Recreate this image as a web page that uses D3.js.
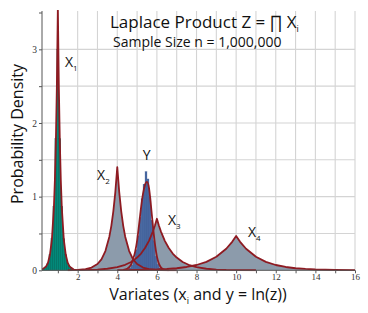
<!DOCTYPE html>
<html><head><meta charset="utf-8">
<script src="https://cdn.jsdelivr.net/npm/d3@7/dist/d3.min.js"></script>
<style>html,body{margin:0;padding:0;background:#fff;} svg{display:block;}</style>
</head><body>
<svg id="chart" width="368" height="313"></svg>
<script>
// ---------------- data ----------------
const xTickLabels = [2, 4, 6, 8, 10, 12, 14, 16];
const yTickLabels = [0, 1, 2, 3];

// histogram of X1 (bin centres and densities)
const x1BinCenters = [0.2, 0.3, 0.4, 0.5, 0.6, 0.7, 0.8, 0.9, 1.0, 1.1, 1.2, 1.3, 1.4, 1.5, 1.6, 1.7, 1.8];
const x1BinHeights = [0.01, 0.02, 0.05, 0.10, 0.21, 0.43, 0.87, 1.79, 3.0, 1.79, 0.87, 0.43, 0.21, 0.10, 0.05, 0.02, 0.01];

// histogram of Y = ln(Z)
const yBinCenters = [4.65, 4.75, 4.85, 4.95, 5.05, 5.15, 5.25, 5.35, 5.45, 5.55, 5.65, 5.75, 5.85, 5.95, 6.05, 6.15];
const yBinHeights = [0.03, 0.07, 0.15, 0.28, 0.47, 0.72, 0.97, 1.17, 1.34, 1.24, 1.0, 0.68, 0.40, 0.19, 0.08, 0.03];

// density curves
const x1CurveX = [0.2, 0.4, 0.5, 0.6, 0.7, 0.8, 0.85, 0.9, 0.95, 1.0, 1.05, 1.1, 1.15, 1.2, 1.3, 1.4, 1.5, 1.6, 1.8, 2.0];
const x1CurveY = [0.01, 0.05, 0.10, 0.21, 0.42, 0.85, 1.22, 1.75, 2.49, 3.57, 2.49, 1.75, 1.22, 0.85, 0.42, 0.21, 0.10, 0.05, 0.01, 0.0];

const x2CurveX = [1.5, 2.0, 2.4, 2.7, 3.0, 3.2, 3.4, 3.6, 3.7, 3.8, 3.9, 4.0, 4.1, 4.2, 4.3, 4.4, 4.6, 4.8, 5.0, 5.3, 5.6, 6.0, 6.5, 7.0];
const x2CurveY = [0.001, 0.005, 0.016, 0.037, 0.085, 0.149, 0.261, 0.457, 0.604, 0.80, 1.058, 1.40, 1.058, 0.80, 0.604, 0.457, 0.261, 0.149, 0.085, 0.037, 0.016, 0.005, 0.001, 0.0];

const x3CurveX = [2.0, 2.5, 3.0, 3.5, 4.0, 4.4, 4.7, 5.0, 5.2, 5.4, 5.6, 5.8, 5.9, 6.0, 6.1, 6.2, 6.4, 6.6, 6.8, 7.0, 7.3, 7.6, 8.0, 8.5, 9.0, 9.5, 10.0, 11.0];
const x3CurveY = [0.003, 0.005, 0.010, 0.021, 0.043, 0.075, 0.113, 0.173, 0.228, 0.302, 0.40, 0.529, 0.609, 0.70, 0.609, 0.529, 0.40, 0.302, 0.228, 0.173, 0.113, 0.075, 0.043, 0.021, 0.010, 0.005, 0.003, 0.0006];

const x4CurveX = [4.0, 5.0, 6.0, 6.5, 7.0, 7.5, 8.0, 8.5, 9.0, 9.5, 9.8, 10.0, 10.2, 10.5, 11.0, 11.5, 12.0, 12.5, 13.0, 13.5, 14.0, 15.0, 16.0];
const x4CurveY = [0.0017, 0.0044, 0.011, 0.018, 0.028, 0.045, 0.072, 0.115, 0.183, 0.292, 0.387, 0.466, 0.387, 0.292, 0.183, 0.115, 0.072, 0.045, 0.028, 0.018, 0.011, 0.0044, 0.0017];

const yCurveX = [4.3, 4.5, 4.7, 4.9, 5.0, 5.1, 5.2, 5.3, 5.4, 5.5, 5.6, 5.7, 5.8, 5.9, 6.0, 6.1, 6.2, 6.4, 6.6];
const yCurveY = [0.005, 0.02, 0.08, 0.25, 0.40, 0.62, 0.85, 1.04, 1.16, 1.20, 1.12, 0.88, 0.60, 0.36, 0.19, 0.09, 0.04, 0.005, 0.0];

const seriesNames = ["X", "X", "Y", "X", "X"];
const seriesSubs  = ["1", "2", "", "3", "4"];

// ---------------- layout ----------------
const svg = d3.select("#chart");
const W = 368, H = 313;
const plot = {left: 42, right: 355, top: 12.5, bottom: 270.3};
const x = d3.scaleLinear().domain([0.2, 16]).range([plot.left, plot.right]);
const y = d3.scaleLinear().domain([0, 3.5]).range([plot.bottom, plot.top]);

const colors = {
  grid: "#d4d4d4", axis: "#555", curve: "#8e1b22",
  gray: "#8c9bab", teal: "#03897a", tealEdge: "#0e5f55",
  blue: "#4a6aa3", blueEdge: "#35528a"
};
const sansFont = "'Open Sans', 'Noto Sans', sans-serif";
const serifFont = "'Liberation Serif', 'DejaVu Serif', serif";

svg.append("rect").attr("width", W).attr("height", H).attr("fill", "#fff");

svg.append("defs").append("clipPath").attr("id", "clip")
  .append("rect").attr("x", plot.left).attr("y", 10)
  .attr("width", plot.right - plot.left).attr("height", plot.bottom - 10 + 1);

// grid
const g = svg.append("g");
g.selectAll("line.vg").data(d3.range(1, 17)).join("line")
  .attr("x1", d => x(d)).attr("x2", d => x(d))
  .attr("y1", 11).attr("y2", plot.bottom)
  .attr("stroke", colors.grid).attr("stroke-width", 1.1);
g.selectAll("line.hg").data(d3.range(0.5, 3.01, 0.5)).join("line")
  .attr("x1", plot.left).attr("x2", plot.right)
  .attr("y1", d => y(d)).attr("y2", d => y(d))
  .attr("stroke", colors.grid).attr("stroke-width", 1.1);

const zip = (xs, ys) => xs.map((v, i) => [v, ys[i]]);
const area = d3.area().x(d => x(d[0])).y0(y(0)).y1(d => y(d[1]));
const line = d3.line().x(d => x(d[0])).y(d => y(d[1]));
const smoothLine = d3.line().x(d => x(d[0])).y(d => y(d[1])).curve(d3.curveMonotoneX);

const data = svg.append("g").attr("clip-path", "url(#clip)");

// gray filled X2..X4
[[x4CurveX, x4CurveY], [x3CurveX, x3CurveY], [x2CurveX, x2CurveY]].forEach(([xs, ys]) => {
  data.append("path").datum(zip(xs, ys)).attr("d", area)
    .attr("fill", colors.gray).attr("stroke", "none");
});

// X1: teal area under curve + histogram
data.append("path").datum(zip(x1CurveX, x1CurveY)).attr("d", area)
  .attr("fill", colors.teal).attr("stroke", "none");
const bw = 0.1;
data.selectAll("rect.x1").data(zip(x1BinCenters, x1BinHeights)).join("rect")
  .attr("x", d => x(d[0] - bw / 2)).attr("width", d => x(d[0] + bw / 2) - x(d[0] - bw / 2))
  .attr("y", d => y(d[1])).attr("height", d => y(0) - y(d[1]))
  .attr("fill", colors.teal).attr("stroke", colors.tealEdge).attr("stroke-width", 0.25);

// Y histogram
data.selectAll("rect.yb").data(zip(yBinCenters, yBinHeights)).join("rect")
  .attr("x", d => x(d[0] - bw / 2)).attr("width", d => x(d[0] + bw / 2) - x(d[0] - bw / 2))
  .attr("y", d => y(d[1])).attr("height", d => y(0) - y(d[1]))
  .attr("fill", colors.blue).attr("stroke", colors.blueEdge).attr("stroke-width", 0.25);

// curves
[[x1CurveX, x1CurveY], [x2CurveX, x2CurveY], [x3CurveX, x3CurveY], [x4CurveX, x4CurveY]].forEach(([xs, ys]) => {
  data.append("path").datum(zip(xs, ys)).attr("d", line)
    .attr("fill", "none").attr("stroke", colors.curve).attr("stroke-width", 1.8)
    .attr("stroke-linejoin", "round");
});
data.append("path").datum(zip(yCurveX, yCurveY)).attr("d", smoothLine)
  .attr("fill", "none").attr("stroke", colors.curve).attr("stroke-width", 1.8);

// axes
const xAxis = d3.axisBottom(x).tickValues(d3.range(1, 17)).tickSize(3).tickFormat(d => d);
const gx = svg.append("g").attr("transform", `translate(0,${plot.bottom})`).call(xAxis);
gx.select(".domain").attr("stroke", colors.axis).attr("d", `M${plot.left},0H${plot.right}`);
gx.selectAll(".tick line").attr("stroke", colors.axis);
gx.selectAll(".tick text").filter(d => !xTickLabels.includes(d)).remove();
gx.selectAll(".tick text").attr("font-family", serifFont).attr("font-size", 9)
  .attr("fill", "#333").attr("y", 0).attr("dy", "10.2px");

const yAxis = d3.axisLeft(y).tickValues(d3.range(0, 3.51, 0.5)).tickSize(3).tickFormat(d => d);
const gy = svg.append("g").attr("transform", `translate(${plot.left},0)`).call(yAxis);
gy.select(".domain").attr("stroke", colors.axis).attr("d", `M0,11V${plot.bottom}`);
gy.selectAll(".tick line").attr("stroke", colors.axis);
gy.selectAll(".tick text").filter(d => !yTickLabels.includes(d)).remove();
gy.selectAll(".tick text").attr("font-family", serifFont).attr("font-size", 9.5)
  .attr("fill", "#333").attr("x", -5);

// titles
const title = svg.append("text").attr("x", 110).attr("y", 28)
  .attr("font-family", sansFont).attr("font-size", 17).attr("fill", "#111");
title.append("tspan").text("Laplace Product Z = \u220F X");
title.append("tspan").attr("font-size", 9).attr("dy", 4).text("i");

svg.append("text").attr("x", 113).attr("y", 47)
  .attr("font-family", sansFont).attr("font-size", 14).attr("fill", "#111")
  .text("Sample Size n = 1,000,000");

const xt = svg.append("text").attr("x", 198).attr("y", 299.5).attr("text-anchor", "middle")
  .attr("font-family", sansFont).attr("font-size", 16).attr("fill", "#111");
xt.append("tspan").text("Variates (x");
xt.append("tspan").attr("font-size", 9).attr("dy", 4).text("i");
xt.append("tspan").attr("dy", -4).text(" and y = ln(z))");

svg.append("text").attr("transform", "translate(23,134) rotate(-90)")
  .attr("text-anchor", "middle").attr("font-family", sansFont).attr("font-size", 16)
  .attr("fill", "#111").text("Probability Density");

// series labels (anchored in data coordinates)
const labelAnchors = [[1.36, 2.76], [2.98, 1.23], [5.28, 1.50], [6.56, 0.615], [10.6, 0.45]];
labelAnchors.forEach((p, i) => {
  const t = svg.append("text").attr("x", x(p[0])).attr("y", y(p[1]))
    .attr("font-family", sansFont).attr("font-size", 14).attr("fill", "#111");
  t.append("tspan").text(seriesNames[i]);
  if (seriesSubs[i]) t.append("tspan").attr("font-size", 8).attr("dy", 4).text(seriesSubs[i]);
});
</script>
</body></html>
